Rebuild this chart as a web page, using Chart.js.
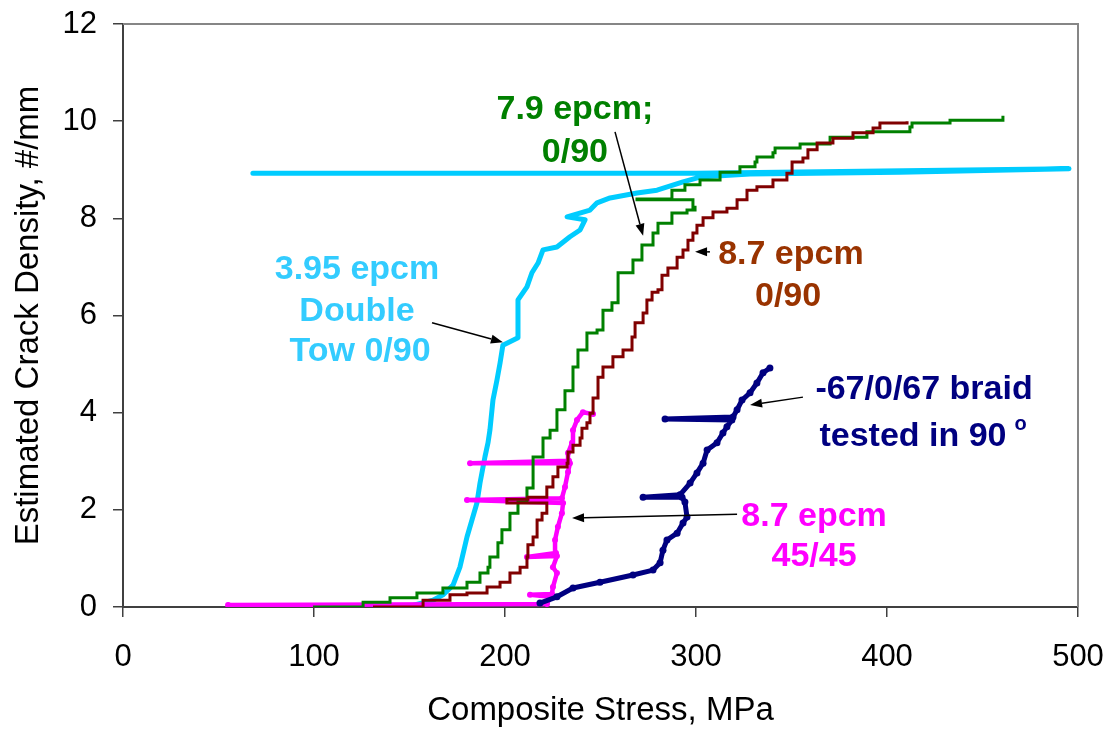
<!DOCTYPE html>
<html>
<head>
<meta charset="utf-8">
<title>Crack density vs stress</title>
<script src="https://cdn.jsdelivr.net/npm/chart.js@4.4.0/dist/chart.umd.min.js"></script>
<style>
    html, body { margin: 0; padding: 0; background: #fff; }
    #wrap { position: relative; width: 1114px; height: 733px; }
</style>
</head>
<body>
<div id="wrap"><canvas id="myChart"></canvas></div>
<script>
// axis ticks
const stressTicks = [0, 100, 200, 300, 400, 500];
const densityTicks = [0, 2, 4, 6, 8, 10, 12];

// 3.95 epcm Double Tow 0/90
const doubleTowStress = [148.7, 162.3, 167.5, 172.8, 176.4, 180.1, 182.7, 185.3, 186.9, 189.5, 191.1, 192.1, 193.7, 195.8, 197.4, 198.9, 201.0, 206.8, 206.8, 211.5, 214.1, 217.3, 219.9, 227.2, 234.0, 239.3, 241.9, 232.5, 244.5, 248.2, 255.0, 269.1, 279.6, 293.2, 302.1, 328.3, 406.8, 495.3, 300.0, 68.0];
const doubleTowDensity = [0, 0.14, 0.25, 0.45, 0.82, 1.44, 1.79, 2.14, 2.55, 3.09, 3.38, 3.64, 4.26, 4.67, 5.02, 5.39, 5.43, 5.54, 6.32, 6.59, 6.88, 7.08, 7.35, 7.41, 7.62, 7.76, 7.97, 8.03, 8.17, 8.32, 8.42, 8.52, 8.58, 8.75, 8.85, 8.91, 8.95, 9.02, 8.93, 8.93];

// 7.9 epcm; 0/90
const sevenNineStress = [99.5, 122.5, 125.7, 139.8, 153.9, 167.5, 180.1, 186.9, 191.1, 192.1, 196.3, 198.4, 202.6, 206.8, 211.5, 214.7, 219.9, 223.6, 227.2, 231.4, 235.6, 238.2, 242.9, 248.2, 251.3, 256.0, 259.2, 267.0, 271.7, 277.5, 280.1, 287.4, 295.3, 299.5, 298.4, 269.1, 287.4, 287.4, 294.2, 302.1, 312.6, 323.0, 330.9, 331.9, 340.3, 341.4, 354.5, 370.2, 389.5, 412.0, 413.1, 433.0, 460.7];
const sevenNineDensity = [0, 0, 0.10, 0.19, 0.29, 0.39, 0.51, 0.70, 0.82, 1.03, 1.32, 1.59, 1.93, 2.16, 2.45, 3.09, 3.48, 3.64, 4.06, 4.45, 4.94, 5.29, 5.64, 5.70, 6.11, 6.26, 6.88, 7.14, 7.45, 7.70, 7.90, 8.11, 8.17, 8.23, 8.38, 8.40, 8.44, 8.58, 8.69, 8.79, 8.95, 9.06, 9.16, 9.26, 9.35, 9.45, 9.53, 9.67, 9.78, 9.88, 9.96, 10.02, 10.11];

// 8.7 epcm 0/90
const eightSevenStress = [130.9, 146.6, 157.1, 171.2, 180.1, 190.6, 197.4, 202.6, 207.9, 211.5, 212.0, 214.7, 216.8, 219.4, 221.9, 201.0, 212.0, 221.9, 225.1, 227.7, 232.5, 233.0, 235.6, 239.3, 240.3, 242.9, 244.5, 246.1, 248.7, 251.3, 256.5, 261.8, 266.5, 268.1, 272.3, 274.3, 277.0, 280.1, 282.2, 285.3, 290.1, 293.2, 295.8, 298.4, 300.5, 303.7, 308.9, 316.2, 321.5, 326.7, 331.9, 340.3, 347.6, 350.3, 356.0, 358.6, 363.4, 371.7, 382.2, 392.7, 396.3, 410.5];
const eightSevenDensity = [0, 0, 0.14, 0.25, 0.29, 0.41, 0.51, 0.70, 0.82, 1.03, 1.28, 1.44, 1.79, 1.93, 2.14, 2.22, 2.26, 2.47, 2.68, 2.88, 2.96, 3.19, 3.33, 3.48, 3.68, 3.79, 3.99, 4.30, 4.73, 4.94, 5.15, 5.29, 5.56, 5.85, 6.05, 6.32, 6.48, 6.53, 6.83, 6.98, 7.20, 7.35, 7.55, 7.70, 7.86, 8.01, 8.13, 8.21, 8.38, 8.58, 8.65, 8.79, 8.93, 9.16, 9.24, 9.41, 9.55, 9.65, 9.76, 9.86, 9.96, 10.00];

// 8.7 epcm 45/45
const fortyFiveStress = [55.0, 222.0, 223.6, 213.1, 224.6, 225.1, 227.2, 225.1, 227.2, 211.5, 226.7, 226.2, 227.7, 229.8, 230.4, 180.1, 229.8, 231.4, 233.0, 234.0, 181.7, 233.5, 233.0, 235.1, 235.6, 237.7, 240.8, 246.1];
const fortyFiveDensity = [0.04, 0.06, 0.21, 0.25, 0.27, 0.41, 0.70, 0.82, 1.05, 1.03, 1.11, 1.38, 1.65, 1.93, 2.14, 2.20, 2.24, 2.47, 2.78, 2.96, 2.96, 3.01, 3.17, 3.38, 3.64, 3.85, 4.01, 3.97];

// -67/0/67 braid tested in 90
const braidStress = [218.3, 227.2, 235.6, 249.7, 267.0, 277.5, 281.2, 282.7, 284.8, 290.1, 293.2, 295.3, 294.2, 292.7, 272.3, 291.6, 296.9, 300.5, 303.7, 305.8, 311.0, 314.1, 316.2, 318.8, 283.8, 319.4, 321.5, 324.1, 328.3, 331.9, 335.1, 338.7];
const braidDensity = [0.08, 0.21, 0.39, 0.51, 0.66, 0.76, 0.91, 1.17, 1.38, 1.52, 1.73, 1.85, 2.16, 2.26, 2.26, 2.31, 2.55, 2.76, 2.96, 3.23, 3.38, 3.58, 3.71, 3.85, 3.87, 3.91, 4.06, 4.26, 4.41, 4.61, 4.82, 4.92];

const FONT = 'Liberation Sans, Arial, Helvetica, sans-serif';

function toPoints(xs, ys) {
    return xs.map((v, i) => ({ x: v, y: ys[i] }));
}

// callouts, placed in data units
const callouts = [
    { lines: ['7.9 epcm;', '0/90'], at: [[236.6, 10.23], [236.6, 9.35]], color: '#008000' },
    { lines: ['3.95 epcm', 'Double', 'Tow 0/90'], at: [[122.5, 6.94], [122.5, 6.07], [124.1, 5.25]], color: '#33CCFF' },
    { lines: ['8.7 epcm', '0/90'], at: [[349.7, 7.25], [348.2, 6.38]], color: '#993300' },
    { lines: ['-67/0/67 braid', 'tested in 90'], at: [[419.4, 4.47], [413.6, 3.50]], color: '#000080', sup: 'o' },
    { lines: ['8.7 epcm', '45/45'], at: [[361.8, 1.85], [361.8, 1.03]], color: '#FF00FF' }
];
const arrows = [
    [[161.8, 5.85], [198.9, 5.45]],
    [[257.6, 9.78], [272.3, 7.64]],
    [[307.3, 7.31], [299.5, 7.31]],
    [[356.0, 4.32], [328.3, 4.16]],
    [[321.5, 1.91], [235.1, 1.83]]
];

const framePlugin = {
    id: 'frame',
    beforeDatasetsDraw(chart) {
        const { ctx, chartArea: a } = chart;
        ctx.save();
        ctx.strokeStyle = '#868686';
        ctx.lineWidth = 2;
        ctx.beginPath();
        ctx.moveTo(a.left, a.top);
        ctx.lineTo(a.right, a.top);
        ctx.lineTo(a.right, a.bottom);
        ctx.stroke();
        ctx.restore();
    }
};

const notesPlugin = {
    id: 'notes',
    afterDatasetsDraw(chart) {
        const { ctx } = chart;
        const sx = chart.scales.x, sy = chart.scales.y;
        ctx.save();
        // arrows
        ctx.strokeStyle = '#000';
        ctx.fillStyle = '#000';
        ctx.lineWidth = 1.5;
        arrows.forEach(([from, to]) => {
            const x0 = sx.getPixelForValue(from[0]), y0 = sy.getPixelForValue(from[1]);
            const x1 = sx.getPixelForValue(to[0]), y1 = sy.getPixelForValue(to[1]);
            const ang = Math.atan2(y1 - y0, x1 - x0);
            const len = 12, half = 4.5;
            const bx = x1 - len * Math.cos(ang), by = y1 - len * Math.sin(ang);
            ctx.beginPath();
            ctx.moveTo(x0, y0);
            ctx.lineTo(bx, by);
            ctx.stroke();
            ctx.beginPath();
            ctx.moveTo(x1, y1);
            ctx.lineTo(bx + half * Math.sin(ang), by - half * Math.cos(ang));
            ctx.lineTo(bx - half * Math.sin(ang), by + half * Math.cos(ang));
            ctx.closePath();
            ctx.fill();
        });
        // labels
        ctx.textAlign = 'center';
        ctx.textBaseline = 'middle';
        callouts.forEach(c => {
            ctx.fillStyle = c.color;
            c.lines.forEach((t, i) => {
                const px = sx.getPixelForValue(c.at[i][0]);
                const py = sy.getPixelForValue(c.at[i][1]);
                ctx.font = 'bold 34px ' + FONT;
                ctx.fillText(t, px, py);
                if (c.sup && i === c.lines.length - 1) {
                    const w = ctx.measureText(t).width;
                    ctx.font = 'bold 20px ' + FONT;
                    ctx.textAlign = 'left';
                    ctx.fillText(c.sup, px + w / 2 + 8, py - 12);
                    ctx.textAlign = 'center';
                }
            });
        });
        ctx.restore();
    }
};

const ctx = document.getElementById('myChart').getContext('2d');
const myChart = new Chart(ctx, { //eslint-disable-line
    type: 'scatter',
    data: {
        datasets: [{
            label: '8.7 epcm 0/90',
            data: toPoints(eightSevenStress, eightSevenDensity),
            borderColor: '#800000',
            borderWidth: 3,
            stepped: 'before',
            showLine: true,
            pointRadius: 0
        }, {
            label: '7.9 epcm; 0/90',
            data: toPoints(sevenNineStress, sevenNineDensity),
            borderColor: '#008000',
            borderWidth: 3,
            stepped: 'before',
            showLine: true,
            pointRadius: 0
        }, {
            label: '-67/0/67 braid tested in 90',
            data: toPoints(braidStress, braidDensity),
            borderColor: '#000080',
            backgroundColor: '#000080',
            borderWidth: 5,
            borderCapStyle: 'round',
            borderJoinStyle: 'round',
            showLine: true,
            pointRadius: 3.5,
            pointBorderWidth: 0
        }, {
            label: '8.7 epcm 45/45',
            data: toPoints(fortyFiveStress, fortyFiveDensity),
            borderColor: '#FF00FF',
            backgroundColor: '#FF00FF',
            borderWidth: 4.5,
            borderCapStyle: 'round',
            borderJoinStyle: 'round',
            showLine: true,
            pointRadius: 3,
            pointBorderWidth: 0
        }, {
            label: '3.95 epcm Double Tow 0/90',
            data: toPoints(doubleTowStress, doubleTowDensity),
            borderColor: '#00CCFF',
            borderWidth: 5,
            borderCapStyle: 'round',
            borderJoinStyle: 'round',
            showLine: true,
            pointRadius: 0
        }]
    },
    options: {
        responsive: true,
        maintainAspectRatio: false,
        animation: false,
        layout: { padding: { left: 0, right: 36, top: 24, bottom: 0 } },
        plugins: {
            legend: { display: false },
            tooltip: { enabled: false }
        },
        scales: {
            x: {
                type: 'linear',
                min: stressTicks[0],
                max: stressTicks[stressTicks.length - 1],
                afterBuildTicks: s => { s.ticks = stressTicks.map(v => ({ value: v })); },
                afterFit: s => {
                    s.height = 126;
                    s.paddingLeft = 0;
                    s.paddingRight = 0;
                },
                grid: { drawOnChartArea: false, drawTicks: true, tickLength: 10, color: '#404040', lineWidth: 1.5 },
                border: { color: '#404040', width: 2 },
                ticks: { color: '#000', padding: 22, font: { family: FONT, size: 31 } },
                title: {
                    display: true,
                    text: 'Composite Stress, MPa',
                    color: '#000',
                    padding: { top: 0, bottom: 2 },
                    font: { family: FONT, size: 33 }
                }
            },
            y: {
                type: 'linear',
                min: densityTicks[0],
                max: densityTicks[densityTicks.length - 1],
                afterBuildTicks: s => { s.ticks = densityTicks.map(v => ({ value: v })); },
                afterFit: s => {
                    s.width = 123;
                    s.paddingTop = 0;
                    s.paddingBottom = 0;
                },
                grid: { drawOnChartArea: false, drawTicks: true, tickLength: 10, color: '#404040', lineWidth: 1.5 },
                border: { color: '#404040', width: 2 },
                ticks: { color: '#000', padding: 16, font: { family: FONT, size: 31 } },
                title: {
                    display: true,
                    text: 'Estimated Crack Density, #/mm',
                    color: '#000',
                    padding: { top: 9, bottom: 0 },
                    font: { family: FONT, size: 33 }
                }
            }
        }
    },
    plugins: [framePlugin, notesPlugin]
});
</script>
</body>
</html>
